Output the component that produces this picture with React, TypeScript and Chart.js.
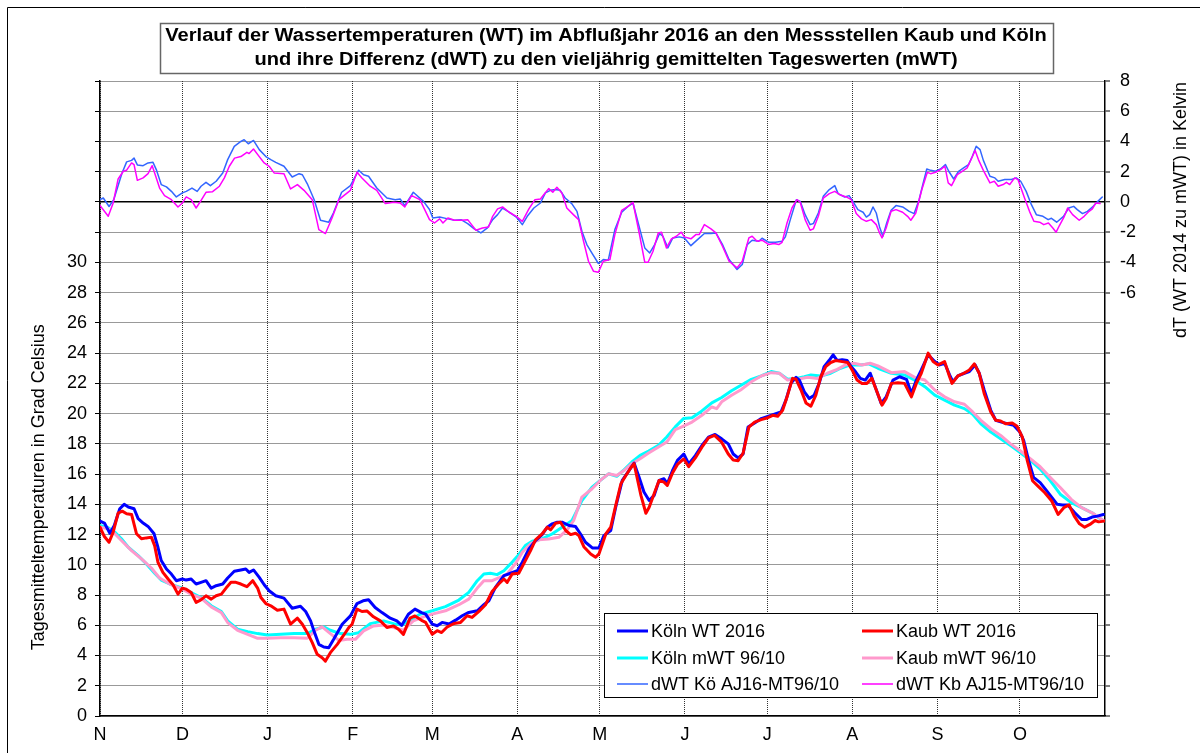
import React, { useEffect, useRef } from "react";
import { Chart, registerables } from "chart.js";
Chart.register(...registerables);

// ---------- categories / ticks ----------
const monthLabels = ["N", "D", "J", "F", "M", "A", "M", "J", "J", "A", "S", "O"];
const monthStartDays = [0, 30, 61, 92, 121, 152, 182, 213, 243, 274, 305, 335];
const yearDays = 366;
const leftTickMaxLabel = 30;
const rightTickMinLabel = -6;

const titleLines = [
  "Verlauf der Wassertemperaturen (WT) im Abflußjahr 2016 an den Messstellen Kaub und Köln",
  "und ihre Differenz (dWT) zu den vieljährig gemittelten Tageswerten (mWT)",
];
const leftAxisTitle = "Tagesmitteltemperaturen in Grad Celsius";
const rightAxisTitle = "dT (WT 2014 zu mWT) in Kelvin";

// ---------- series: [day of hydrological year, value] ----------
const koelnWT: [number, number][] = [
  [0,12.89],[1.6,12.76],[3.6,12.09],[5.2,12.6],[7.2,13.71],[8.8,14.0],[10.3,13.82],[12.4,13.71],[13.9,13.05],[15.7,12.76],[17.5,12.54],[19.7,12.05],[21.1,11.16],[22.3,10.28],[24.2,9.72],[26,9.39],[27.8,8.95],[30,9.06],[31.4,8.99],[33.2,9.06],[35,8.73],[36.8,8.84],[38.6,8.95],[40.5,8.46],[42.3,8.62],[44.7,8.73],[46.5,9.13],[48.9,9.57],[51.3,9.66],[53.1,9.72],[54.3,9.5],[55.9,9.66],[58,9.17],[59.8,8.68],[61.6,8.28],[64,7.95],[67,7.8],[70,7.13],[73,7.26],[74.9,6.91],[76.7,6.29],[77.9,5.63],[79.7,4.74],[81.5,4.56],[83.3,4.52],[85.1,5.07],[88.2,6.07],[91.2,6.62],[93.6,7.44],[95.8,7.62],[97.8,7.69],[100.2,7.18],[102.7,6.84],[105.7,6.47],[108.1,6.29],[109.9,6.0],[112.3,6.73],[114.7,7.07],[117.1,6.84],
  [118.6,6.74],[121,6.08],[122.8,5.97],[124.6,6.19],[127.1,6.08],[129.5,6.34],[131.9,6.63],[134.3,6.85],[137.4,6.96],[139.8,7.36],[141.6,7.62],[144,8.51],[147.1,9.28],[149.5,9.44],[152,9.61],[153.8,10.17],[156.2,11.05],[158.6,11.6],[161,12.0],[162.9,12.49],[164.7,12.71],[166.5,12.82],[168.3,12.82],[170.8,12.6],[173.2,12.53],[175,12.04],[176.8,11.49],[179.3,11.12],[181.7,11.12],[183.5,11.93],[186,12.27],[187.8,13.81],[190.2,15.58],[192.7,16.24],[194.5,16.73],[196.3,15.8],[198.1,14.81],[200,14.25],[201.8,14.59],[203.6,15.58],[205.4,15.69],[206.6,15.36],[208.5,16.24],[210.3,16.91],
  [212.6,17.33],[214.4,16.67],[216.8,17.22],[219.2,17.89],[221.6,18.44],[224,18.62],[226.4,18.33],[228.8,18.0],[230.6,17.33],[232.4,17.07],[234.2,17.33],[236,19.11],[238.4,19.38],[240.8,19.67],[243.2,19.82],[245.6,19.96],[248,20.11],[249.8,20.89],[251.6,22.0],[253.5,22.4],[254.7,22.22],[256.5,21.44],[258.3,21.0],[260.1,21.22],[261.9,22.0],[263.7,23.11],[265.5,23.51],[267,23.89],[268.5,23.51],[270.3,23.56],[272.1,23.51],[273.5,23.11],[275.1,22.78],[276.9,22.33],[278.7,22.22],[280.5,22.67],[282.3,21.78],
  [284.5,20.67],[286.3,21.11],[288.8,22.22],[291.2,22.44],[293.7,22.27],[295.5,21.33],[297.3,22.22],[299.1,22.89],[301.6,23.89],[304,23.44],[305.8,23.22],[307.6,23.33],[309.4,22.56],[310.6,22.11],[312.4,22.49],[314.8,22.67],[316.6,22.78],[318.7,23.22],[320.2,22.67],[322,21.56],[324.4,20.22],[326.2,19.56],[328.3,19.44],[330.4,19.33],[332.8,19.22],[335,18.78],[336.4,18.22],[338.2,16.89],[340,15.78],[342.4,15.44],[344.8,14.89],[346.7,14.44],[348.6,14.0],[350.5,13.96],[352.4,13.96],[355,13.44],[357.5,13.0],[359.4,13.0],[361.3,13.16],[363.2,13.22],[365.4,13.33],
];

const kaubWT: [number, number][] = [
  [0,12.49],[1.6,11.87],[3.3,11.49],[4.8,12.16],[6.6,13.42],[8.1,13.55],[9.7,13.38],[11.5,13.33],[13.3,12.05],[15.1,11.72],[16.9,11.78],[18.7,11.83],[19.9,11.27],[21.1,10.17],[22.9,9.5],[24.8,9.06],[26.6,8.68],[28.4,8.06],[30,8.46],[31.4,8.39],[33.2,8.17],[35,7.51],[36.6,7.66],[38.6,7.95],[40.5,7.73],[42.3,7.95],[44.2,8.06],[45.9,8.46],[47.7,8.84],[49.5,8.84],[51.3,8.73],[53.5,8.55],[55.6,8.95],[57.4,8.46],[58.6,7.84],[60.4,7.44],[62.2,7.29],[64.6,7.0],[67,7.07],[69.4,6.07],[71.9,6.47],[73.7,6.07],[75.5,5.51],[77.3,4.85],[79.1,4.08],[80.9,3.85],[82.1,3.63],[83.9,4.19],[86.4,4.74],[88.8,5.36],[90.6,5.85],[91.8,6.07],[93.6,7.07],[95.4,6.91],[97.2,6.95],[99.6,6.56],[102.1,6.29],[104.5,5.85],[106.9,5.96],[108.7,5.74],[110.5,5.4],[112.9,6.47],[114.7,6.62],[117.1,6.33],
  [118.6,6.19],[121,5.41],[122.8,5.64],[124.4,5.52],[126.5,5.9],[128.9,6.12],[131.3,6.19],[133.7,6.63],[135.5,6.52],[138,6.92],[140.4,7.36],[142.8,8.24],[145.2,8.73],[147.1,9.06],[148.3,8.84],[150.1,9.39],[152.5,9.44],[154.3,10.06],[156.8,10.94],[158.6,11.65],[161,12.04],[162.9,12.49],[164.1,12.31],[165.9,12.75],[167.7,12.82],[169.6,12.27],[171.4,12.0],[173.2,12.09],[174.4,11.93],[176.2,11.2],[178.7,10.72],[180.5,10.5],[181.7,10.72],[184.2,12.04],[186,12.49],[187.8,13.92],[189.7,15.36],[191.5,15.91],[193.3,16.42],[194.5,16.69],[197,14.59],[198.8,13.41],[200,13.81],[201.8,14.7],[203.6,15.58],[205.4,15.47],[206.6,15.25],[208.5,16.07],[210.3,16.64],
  [212.6,17.0],[214.4,16.49],[216.8,17.07],[219.2,17.78],[221.6,18.4],[223.8,18.56],[226.4,18.11],[228.8,17.33],[230.6,16.93],[232.4,16.89],[234.2,17.38],[236.3,19.11],[238.4,19.44],[240.8,19.6],[243.2,19.73],[245,19.89],[246.8,19.82],[248.6,20.22],[250.4,21.22],[252.2,22.33],[253.5,22.27],[255.3,21.56],[257.1,20.71],[258.9,20.49],[260.7,21.22],[262.5,22.44],[264.3,23.11],[266.1,23.38],[267.9,23.51],[270.3,23.44],[272.3,23.38],[273.9,22.89],[275.7,22.22],[277.5,22.0],[279.3,22.0],[281.1,22.33],[282.7,21.56],
  [284.8,20.56],[286.3,21.0],[288.2,22.0],[290.6,22.04],[293,22.0],[295.5,21.11],[297.3,22.0],[299.1,22.67],[301.6,24.0],[303.4,23.44],[305.2,23.22],[307.6,23.44],[309.4,22.44],[310.3,22.0],[312.4,22.49],[314.6,22.67],[316.6,22.89],[318.4,23.29],[320.2,22.67],[322,21.33],[324.4,20.11],[326.2,19.56],[328,19.51],[329.8,19.33],[332.2,19.38],[334,19.16],[335.9,18.44],[337.7,16.89],[339.6,15.56],[341.5,15.22],[344,14.78],[346.6,14.22],[348.9,13.33],[351,13.78],[352.9,13.96],[354.8,13.22],[356.7,12.71],[358.6,12.49],[360.5,12.67],[362.4,12.93],[363.7,12.84],[365.8,12.89],
];

const koelnMWT: [number, number][] = [
  [0,12.6],[3,12.45],[5.4,12.16],[7.8,11.72],[10.3,11.16],[13.9,10.61],[16.9,10.06],[19.9,9.44],[22.3,8.99],[25.4,8.73],[30,8.46],[33.2,8.17],[36.8,7.84],[40.5,7.29],[44.2,6.91],[46.5,6.29],[50.1,5.74],[53.8,5.58],[57.4,5.45],[61,5.36],[65.8,5.4],[70.7,5.45],[75.5,5.45],[78.5,5.74],[81.5,5.89],[83.9,5.67],[87.6,5.45],[91.2,5.4],[94.2,5.51],[98.4,6.11],[103.3,6.29],[106.9,6.11],[109.9,6.02],[112.9,6.33],[116.5,6.73],
  [121,6.96],[125.8,7.23],[130.7,7.67],[134.3,8.18],[137.4,8.95],[139.8,9.39],[142.2,9.44],[144.6,9.35],[147.1,9.61],[149.5,10.06],[152.5,10.67],[154.9,11.27],[157.4,11.56],[161,11.71],[164.6,12.04],[168.3,12.49],[171.9,12.93],[175.5,14.25],[179.2,15.14],[182.2,15.58],[185.2,16.02],[188.2,15.85],[190.6,16.24],[193.7,16.8],[196.7,17.24],[199.8,17.52],[203.4,17.9],[206.4,18.45],[209.5,19.12],
  [212.5,19.67],[215.6,19.73],[219.2,20.18],[222.8,20.71],[226.4,21.07],[230,21.51],[233.6,21.89],[237.2,22.27],[240.8,22.49],[244.4,22.78],[247.4,22.67],[250.4,22.27],[253.5,22.33],[256.5,22.44],[258.9,22.56],[262.5,22.49],[266.1,22.67],[269.7,23.0],[273.3,23.22],[277,23.22],[280,23.29],
  [283.3,23.0],[288.2,22.67],[293,22.56],[296.7,22.22],[300.4,21.78],[304,21.22],[307.6,20.89],[311.2,20.56],[314.8,20.33],[317.8,19.96],[320.8,19.33],[324.4,18.78],[328,18.33],[331.6,17.89],[335,17.44],[338.9,16.89],[342.4,16.33],[346.1,15.56],[349.7,14.67],[353.7,14.11],[357.5,13.78],[361.3,13.44],[365.4,12.89],
];

const kaubMWT: [number, number][] = [
  [0,12.49],[3,12.38],[5.4,12.05],[7.8,11.61],[11.5,10.94],[15.1,10.39],[18.7,9.79],[21.7,9.13],[25.4,8.73],[30,8.39],[33.2,8.06],[36.8,7.8],[40.5,7.22],[44.2,6.84],[46.5,6.18],[50.1,5.67],[53.8,5.4],[57.4,5.14],[61,5.14],[65.8,5.18],[70.7,5.18],[75.5,5.14],[78.5,5.67],[80.9,5.89],[83.9,5.45],[87,5.0],[90,5.07],[93,5.07],[96,5.63],[99.6,5.96],[103.3,6.02],[106.9,5.85],[110.5,5.67],[114.1,6.29],[117.8,6.56],
  [121,6.74],[125.8,6.96],[130.7,7.36],[134.3,7.73],[137.4,8.46],[139.8,8.95],[142.8,8.95],[145.2,9.13],[148.3,9.39],[151.4,10.1],[153.8,10.83],[156.8,11.38],[159.8,11.65],[163.4,11.71],[167.1,11.82],[170.1,12.31],[172.5,12.93],[175.5,14.48],[179.2,15.03],[182.2,15.58],[185.2,16.02],[188.2,15.91],[191.2,16.29],[193.7,16.69],[196.7,17.02],[199.8,17.39],[203.4,17.79],[206.4,18.12],[209.5,18.94],
  [211.9,19.12],[215.6,19.44],[219.2,19.89],[222.8,20.44],[224.6,20.33],[226.4,20.78],[230,21.22],[233.6,21.6],[237.2,22.11],[240.8,22.49],[244.4,22.71],[247.4,22.67],[250.4,22.22],[254,22.27],[257.7,22.4],[261.3,22.33],[264.9,22.67],[268.5,22.93],[271.5,23.22],[274.5,23.33],[277.5,23.22],[280.5,23.33],
  [283.3,23.16],[288.2,22.71],[293,22.78],[296.7,22.4],[300.4,22.22],[304,21.56],[307.6,21.11],[311.2,20.78],[314.8,20.62],[317.8,20.11],[320.8,19.56],[324.4,19.0],[328,18.56],[331.6,18.0],[335,17.56],[338.9,17.0],[342.4,16.49],[346.1,15.78],[349.7,15.11],[353.7,14.33],[357.5,13.78],[361.3,13.44],[365.4,12.93],
];

const dwtKoeln: [number, number][] = [
  [0,0.15],[1.2,0.26],[3.3,-0.3],[5,0.15],[8,1.9],[9.7,2.65],[11.5,2.75],[12.4,2.9],[13.6,2.45],[15.7,2.4],[17.5,2.58],[19.3,2.62],[20.5,2.14],[22.3,1.15],[24.2,1.0],[26,0.7],[27.8,0.33],[30,0.6],[31.4,0.7],[33.5,0.92],[35.4,0.7],[36.8,1.04],[38.6,1.3],[40.2,1.08],[42.3,1.37],[44.7,1.92],[46.5,2.8],[48.9,3.68],[51.3,4.0],[52.5,4.12],[54,3.85],[55.9,4.07],[58,3.46],[60.4,3.0],[62.2,2.8],[64,2.62],[67,2.36],[70,1.65],[72.5,1.87],[73.7,1.8],[75.5,1.2],[78,0.15],[80.3,-1.21],[83.3,-1.34],[85,-0.73],[88,0.64],[91.2,1.08],[94.2,2.1],[96,1.8],[97.8,1.7],[100.8,0.92],[104.5,0.26],[107.5,0.15],[109.3,0.2],[111,-0.24],[114.1,0.64],[117.8,0.04],
  [120,-0.5],[121.2,-1.06],[123.7,-1.0],[126.7,-1.12],[129.1,-1.21],[131.5,-1.17],[133.9,-1.43],[136.3,-1.78],[138.7,-2.05],[141.1,-1.72],[143,-1.17],[144.8,-0.84],[146.6,-0.4],[149,-0.68],[151.6,-1.0],[153.8,-1.5],[155.6,-0.95],[158,-0.4],[160.4,-0.07],[162.2,0.6],[164,0.77],[165.8,0.82],[167.6,0.77],[169.4,0.26],[171.8,-0.11],[173.7,-0.62],[175.5,-1.94],[177.3,-2.82],[179.1,-3.37],[181.5,-4.07],[183.3,-3.81],[185.1,-3.85],[187.5,-1.83],[190,-0.68],[192.3,-0.29],[194.1,-0.07],[196,-1.39],[198.4,-3.04],[200.2,-3.37],[202,-2.82],[203.8,-2.09],[205,-2.27],[206.8,-3.04],[208.6,-2.38],[211,-2.31],[212.8,-2.38],[215.2,-2.89],[217.6,-2.49],[220.1,-2.09],[222.5,-2.09],[224.3,-2.05],[226.7,-2.82],[229.1,-3.81],[232,-4.47],[233.9,-4.14],[235.7,-2.82],[237.5,-2.53],[239.9,-2.6],[241.1,-2.4],
  [243.6,-2.67],[246,-2.67],[248.4,-2.6],[249.6,-2.31],[251.4,-1.17],[253.6,0.15],[255,0.04],[256.8,-0.84],[258.6,-1.5],[259.8,-1.43],[261.6,-0.73],[263.4,0.37],[265.6,0.82],[267.6,1.08],[268.8,0.55],[271.2,0.33],[272.8,0.42],[274.2,0.04],[276,-0.51],[277.9,-0.68],[279.1,-1.0],[280.3,-0.84],[281.5,-0.33],[282.7,-0.73],[283.9,-1.65],[285.1,-2.27],[286.5,-1.39],[288.1,-0.55],[289.9,-0.24],[292.3,-0.33],[294.7,-0.62],[296.5,-0.77],[298.3,0.15],[299.5,1.04],[301.1,2.18],[302.5,2.09],[304.3,2.03],[306.1,2.18],[307.9,2.47],[309.1,2.03],[310.9,1.52],[312.7,2.03],[314.5,2.25],[316.3,2.47],[317.7,3.02],[319.1,3.68],[320.5,3.46],[321.7,2.75],[324.1,1.7],[325.9,1.59],[327.1,1.37],[329.5,1.48],[331.9,1.48],[333.7,1.59],[335.3,1.37],[337.3,0.7],[339.2,-0.18],[341,-0.84],[343.4,-0.95],[345.3,-1.17],[346.5,-1.08],[348.4,-1.34],[350.9,-0.95],[352.8,-0.4],[354.6,-0.29],[355.9,-0.51],[357.8,-0.77],[359.6,-0.62],[361.5,-0.33],[363.4,0.04],[365,0.33],
];

const dwtKaub: [number, number][] = [
  [0,-0.24],[3,-0.95],[4.8,-0.07],[6.6,1.52],[8.5,2.03],[9.7,2.1],[11.5,2.58],[12.4,2.47],[13.6,1.43],[15.7,1.59],[17.5,1.87],[19,2.4],[19.9,1.92],[21.7,0.92],[23.5,0.42],[26,0.15],[28.4,-0.33],[30,-0.07],[31.4,0.33],[33.2,0.15],[35,-0.4],[36.6,0.04],[38.6,0.64],[41,0.68],[43.5,1.04],[45.3,1.59],[47.1,2.36],[49,2.9],[51.3,3.0],[53.5,3.28],[54.3,3.2],[55.9,3.5],[58,3.0],[59.8,2.58],[61.6,2.36],[63.4,1.92],[67,1.87],[69.4,0.86],[71.9,1.15],[74.3,0.77],[77.3,0.15],[79.7,-1.83],[82.1,-2.09],[84.5,-1.06],[87,0.15],[88.8,0.42],[91.2,0.77],[93.6,1.96],[95.4,1.59],[98.4,1.04],[100.8,0.77],[103.9,-0.11],[107,-0.02],[109.3,-0.07],[111,-0.33],[113.5,0.42],[116.5,0.15],
  [120,-1.17],[121.8,-1.39],[123.7,-1.12],[124.9,-1.39],[126.7,-1.06],[129.1,-1.21],[131.5,-1.21],[133.9,-1.17],[136.9,-1.87],[139.3,-1.72],[141.5,-1.65],[143,-0.95],[144.8,-0.46],[146.6,-0.33],[149,-0.68],[151.6,-0.95],[153.8,-1.28],[156.2,-0.46],[158.4,0.15],[160.4,0.2],[161.6,0.48],[163.4,0.88],[164.9,0.64],[166.4,0.97],[168.2,0.6],[170,-0.4],[172.4,-0.84],[174.3,-1.17],[176.1,-2.6],[177.9,-3.92],[179.7,-4.58],[181.5,-4.65],[183.3,-3.92],[185.7,-3.81],[187.5,-2.16],[190,-0.55],[192.3,-0.29],[194.1,-0.02],[196.6,-2.27],[198.4,-3.99],[199.6,-3.99],[201.4,-3.26],[203.3,-2.05],[204.5,-2.0],[206.3,-3.04],[208.1,-2.44],[209.9,-2.27],[211.7,-2.0],[212.8,-2.31],[215.2,-2.44],[217,-2.16],[218.2,-2.16],[220.1,-1.5],[222.5,-1.78],[224.3,-2.05],[226.7,-2.93],[229.1,-3.92],[232,-4.36],[233.9,-3.92],[236.3,-2.38],[237.5,-2.27],[239.3,-2.6],[241.1,-2.53],
  [243.6,-2.82],[245.4,-2.75],[247.2,-2.82],[248.4,-2.67],[250.2,-1.39],[252,-0.4],[253.8,0.15],[255,-0.02],[256.8,-1.17],[258.6,-1.87],[259.8,-1.78],[261.6,-0.95],[263.4,0.26],[265.6,0.55],[267.6,0.7],[269.4,0.48],[271.8,0.33],[273.6,0.15],[275.4,-0.77],[277.3,-1.12],[279.1,-1.28],[280.9,-1.17],[282.7,-1.5],[283.9,-2.05],[284.8,-2.38],[286.3,-1.72],[288.1,-0.62],[289.9,-0.51],[292.3,-0.68],[294.1,-0.95],[295.3,-1.21],[297.1,-0.73],[299.3,0.82],[301.3,1.96],[302.5,1.87],[304.3,1.96],[306.1,2.14],[307.7,2.36],[308.9,1.26],[310.1,1.08],[312.2,1.81],[314,2.03],[315.8,2.25],[317.3,2.84],[318.7,3.41],[319.9,2.8],[321.7,2.09],[324.1,1.26],[325.7,1.37],[327.1,1.04],[328.9,1.15],[330.1,1.3],[331.3,1.15],[333.1,1.59],[334.3,1.48],[336.7,0.26],[338.5,-0.62],[340.1,-1.28],[342.2,-1.34],[343.7,-1.5],[345.4,-1.39],[347,-1.72],[348.2,-2.0],[349.4,-1.56],[351.2,-0.95],[352.4,-0.4],[354.2,-0.84],[356.6,-1.21],[358.4,-0.95],[360.2,-0.62],[361.4,-0.46],[362.6,-0.07],[364.2,-0.11],
];

// ---------- series meta ----------
const seriesDefs = [
  { label: "Köln WT 2016", data: koelnWT, color: "#0000FF", width: 3, axis: "y", order: 4 },
  { label: "Kaub WT 2016", data: kaubWT, color: "#FF0000", width: 3, axis: "y", order: 3 },
  { label: "Köln mWT 96/10", data: koelnMWT, color: "#00FFFF", width: 3, axis: "y", order: 6 },
  { label: "Kaub mWT 96/10", data: kaubMWT, color: "#FF99CC", width: 3, axis: "y", order: 5 },
  { label: "dWT Kö AJ16-MT96/10", data: dwtKoeln, color: "#3366FF", width: 1.5, axis: "y2", order: 2 },
  { label: "dWT Kb AJ15-MT96/10", data: dwtKaub, color: "#FF00FF", width: 1.5, axis: "y2", order: 1 },
];

const FONT = '"Liberation Sans", Arial, sans-serif';

const decorPlugin = {
  id: "decor",
  afterDraw(chart: any) {
    const ctx = chart.ctx as CanvasRenderingContext2D;
    const yL = chart.scales.y;
    ctx.save();
    // outer frame
    ctx.strokeStyle = "#000";
    ctx.lineWidth = 1;
    ctx.beginPath();
    ctx.moveTo(7.5, 760);
    ctx.lineTo(7.5, 7.5);
    ctx.lineTo(1210, 7.5);
    ctx.stroke();

    // title box
    ctx.fillStyle = "#fff";
    ctx.fillRect(160, 23, 893, 50);
    ctx.strokeStyle = "#666";
    ctx.lineWidth = 1.5;
    ctx.strokeRect(160.5, 23.5, 893, 50);
    ctx.fillStyle = "#000";
    ctx.font = "bold 18px " + FONT;
    ctx.textAlign = "center";
    ctx.textBaseline = "alphabetic";
    const titleY = [41, 65];
    titleLines.forEach((t, i) => {
      ctx.save();
      ctx.translate(606, titleY[i]);
      ctx.scale(1.115, 1);
      ctx.fillText(t, 0, 0);
      ctx.restore();
    });

    // left axis title (centered on labelled range 0..30)
    ctx.font = "18px " + FONT;
    const lc = (yL.getPixelForValue(0) + yL.getPixelForValue(leftTickMaxLabel)) / 2 - 2;
    ctx.save();
    ctx.translate(44, lc);
    ctx.rotate(-Math.PI / 2);
    ctx.textAlign = "center";
    ctx.fillText(leftAxisTitle, 0, 0);
    ctx.restore();

    // right axis title
    ctx.save();
    ctx.translate(1186, 210);
    ctx.rotate(-Math.PI / 2);
    ctx.textAlign = "center";
    ctx.fillText(rightAxisTitle, 0, 0);
    ctx.restore();

    // legend
    const lx = 604, ly = 613, lw = 493, lh = 84;
    ctx.fillStyle = "#fff";
    ctx.fillRect(lx, ly, lw, lh);
    ctx.strokeStyle = "#000";
    ctx.lineWidth = 1;
    ctx.strokeRect(lx + 0.5, ly + 0.5, lw, lh);
    const rows = [631, 658, 684];
    const cols = [617, 862];
    ctx.font = "18px " + FONT;
    ctx.textAlign = "left";
    ctx.textBaseline = "middle";
    seriesDefs.forEach((s, i) => {
      const cx = cols[i % 2];
      const cy = rows[Math.floor(i / 2)];
      ctx.strokeStyle = s.color;
      ctx.lineWidth = s.width;
      ctx.beginPath();
      ctx.moveTo(cx, cy);
      ctx.lineTo(cx + 31, cy);
      ctx.stroke();
      ctx.fillStyle = "#000";
      ctx.fillText(s.label, cx + 34, cy + 1);
    });
    ctx.restore();
  },
};

export default function App() {
  const ref = useRef<HTMLCanvasElement>(null);
  useEffect(() => {
    document.body.style.margin = "0";
    document.body.style.overflow = "hidden";
    const canvas = ref.current!;
    const tickFont = { family: FONT, size: 18 };
    const chart = new Chart(canvas, {
      type: "line",
      data: {
        datasets: seriesDefs.map((s) => ({
          label: s.label,
          data: s.data.map(([x, y]) => ({ x, y })),
          borderColor: s.color,
          backgroundColor: s.color,
          borderWidth: s.width,
          yAxisID: s.axis,
          order: s.order,
          pointRadius: 0,
          tension: 0,
          fill: false,
          borderJoinStyle: "round",
          borderCapStyle: "round",
        })),
      },
      options: {
        responsive: false,
        animation: false,
        devicePixelRatio: 1,
        events: [],
        layout: { padding: { top: 81, left: 0, right: 0, bottom: 0 } },
        plugins: { legend: { display: false }, title: { display: false }, tooltip: { enabled: false } },
        scales: {
          x: {
            type: "linear",
            position: "bottom",
            min: 0,
            max: yearDays,
            afterBuildTicks: (s: any) => {
              s.ticks = monthStartDays.map((v) => ({ value: v }));
            },
            afterFit: (s: any) => {
              s.height = 37;
            },
            ticks: {
              autoSkip: false,
              maxRotation: 0,
              padding: 8,
              color: "#000",
              font: tickFont,
              callback: (v: any) => {
                const i = monthStartDays.indexOf(Number(v));
                return i >= 0 ? monthLabels[i] : "";
              },
            },
            grid: { color: "#333", lineWidth: 1, drawTicks: false },
            border: { display: true, color: "#000", width: 1.5, dash: [1, 1] },
          },
          y: {
            type: "linear",
            position: "left",
            min: 0,
            max: 42,
            afterFit: (s: any) => {
              s.width = 100;
            },
            ticks: {
              stepSize: 2,
              autoSkip: false,
              padding: 8,
              color: "#000",
              font: tickFont,
              callback: (v: any) => (Number(v) <= leftTickMaxLabel ? String(v) : ""),
            },
            grid: { color: "#333", lineWidth: 1, drawTicks: true, tickLength: 5, tickColor: "#000", tickWidth: 1, tickBorderDash: [] },
            border: { display: true, color: "#000", width: 1.5, dash: [1, 1] },
          },
          y2: {
            type: "linear",
            position: "right",
            min: -34,
            max: 8,
            afterFit: (s: any) => {
              s.width = 95;
            },
            ticks: {
              stepSize: 2,
              autoSkip: false,
              padding: 10,
              color: "#000",
              font: tickFont,
              callback: (v: any) => (Number(v) >= rightTickMinLabel ? String(v) : ""),
            },
            grid: {
              drawOnChartArea: true,
              color: (c: any) => (c.tick && c.tick.value === 0 ? "#000" : "rgba(0,0,0,0)"),
              lineWidth: (c: any) => (c.tick && c.tick.value === 0 ? 1.5 : 0),
              drawTicks: true,
              tickLength: 5,
              tickColor: "#000",
              tickWidth: 1,
            },
            border: { display: true, color: "#000", width: 1.5 },
          },
        },
      } as any,
      plugins: [decorPlugin],
    });
    return () => chart.destroy();
  }, []);
  return <canvas ref={ref} width={1200} height={753} style={{ display: "block", width: 1200, height: 753 }} />;
}
